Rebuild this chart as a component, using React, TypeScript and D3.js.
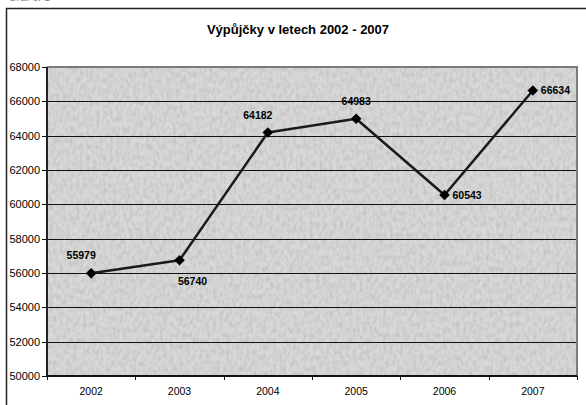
import React from "react";
import * as d3 from "d3";

const years = ["2002", "2003", "2004", "2005", "2006", "2007"];
const loans = [55979, 56740, 64182, 64983, 60543, 66634];
const labelPlacement = ["above", "below", "above", "above", "right", "right"];
const yTicks = [50000, 52000, 54000, 56000, 58000, 60000, 62000, 64000, 66000, 68000];
const title = "Výpůjčky v letech 2002 - 2007";

const W = 586;
const H = 405;
const plot = { left: 47, right: 577, top: 67, bottom: 376 };

export default function App() {
  const x = d3.scaleBand<string>().domain(years).range([plot.left, plot.right]);
  const y = d3.scaleLinear().domain([50000, 68000]).range([plot.bottom, plot.top]);
  const cx = (d: string) => (x(d) as number) + x.bandwidth() / 2;
  const line = d3
    .line<number>()
    .x((_, i) => cx(years[i]))
    .y((d) => y(d));
  const font = "Arial, 'Liberation Sans', sans-serif";
  const diamond = d3.symbol().type(d3.symbolDiamond2).size(72)();

  return (
    <svg
      width={W}
      height={H}
      style={{ position: "absolute", left: 0, top: 0, display: "block" }}
      fontFamily={font}
    >
      <defs>
        <filter id="tex" x="0" y="0" width="100%" height="100%">
          <feTurbulence type="fractalNoise" baseFrequency="0.3 0.18" numOctaves={3} seed={7} result="n" />
          <feColorMatrix
            in="n"
            type="matrix"
            values="0 0 0 0 0  0 0 0 0 0  0 0 0 0 0  0 0 0 -2.0 1.3"
            result="a"
          />
          <feFlood floodColor="#d8d8d8" result="bg" />
          <feFlood floodColor="#909090" result="dk" />
          <feComposite in="dk" in2="a" operator="in" result="dka" />
          <feComponentTransfer in="dka" result="dkb">
            <feFuncA type="linear" slope={0.35} />
          </feComponentTransfer>
          <feMerge>
            <feMergeNode in="bg" />
            <feMergeNode in="dkb" />
          </feMerge>
        </filter>
      </defs>
      <rect x={0} y={0} width={W} height={H} fill="#ffffff" />
      <text x={8} y={1} fontSize={11} fill="#888">Graf č. 1</text>
      {/* outer frame */}
      <path d={`M6.5,${H} V8.5 H${W}`} fill="none" stroke="#222" strokeWidth={1.5} />
      <text x={298} y={34} textAnchor="middle" fontSize={13} fontWeight="bold" fill="#000">
        {title}
      </text>
      {/* plot background */}
      <rect
        x={plot.left}
        y={plot.top}
        width={plot.right - plot.left}
        height={plot.bottom - plot.top}
        fill="#c8c8c8"
        filter="url(#tex)"
      />
      {/* gridlines */}
      {yTicks.slice(1, -1).map((t) => (
        <line
          key={t}
          x1={plot.left}
          x2={plot.right}
          y1={Math.round(y(t)) + 0.5}
          y2={Math.round(y(t)) + 0.5}
          stroke="#111"
          strokeWidth={1}
        />
      ))}
      {/* plot border top/right */}
      <path
        d={`M${plot.left},${plot.top} H${plot.right} V${plot.bottom}`}
        fill="none"
        stroke="#7a7a7a"
        strokeWidth={2}
      />
      {/* y axis */}
      <line x1={plot.left} x2={plot.left} y1={plot.top} y2={plot.bottom} stroke="#222" strokeWidth={2} />
      {yTicks.map((t) => (
        <g key={t}>
          <line
            x1={plot.left - 5}
            x2={plot.left}
            y1={Math.round(y(t)) + 0.5}
            y2={Math.round(y(t)) + 0.5}
            stroke="#111"
          />
          <text x={40} y={y(t) + 4} textAnchor="end" fontSize={11} fill="#000">
            {t}
          </text>
        </g>
      ))}
      {/* x axis */}
      <line x1={plot.left} x2={plot.right} y1={plot.bottom} y2={plot.bottom} stroke="#111" strokeWidth={2} />
      {years.map((yr, i) => (
        <g key={yr}>
          <line
            x1={Math.round((x(yr) as number) + x.bandwidth()) + 0.5}
            x2={Math.round((x(yr) as number) + x.bandwidth()) + 0.5}
            y1={plot.bottom}
            y2={plot.bottom + 4}
            stroke="#111"
          />
          {i === 0 && (
            <line
              x1={plot.left + 0.5}
              x2={plot.left + 0.5}
              y1={plot.bottom}
              y2={plot.bottom + 4}
              stroke="#111"
            />
          )}
          <text x={cx(yr)} y={395} textAnchor="middle" fontSize={10.5} fill="#000">
            {yr}
          </text>
        </g>
      ))}
      {/* series */}
      <path d={line(loans) || ""} fill="none" stroke="#1a1a1a" strokeWidth={2.5} strokeLinejoin="round" />
      {loans.map((v, i) => (
        <path
          key={i}
          d={diamond || ""}
          transform={`translate(${cx(years[i])},${y(v)})`}
          fill="#000"
        />
      ))}
      {loans.map((v, i) => {
        const px = cx(years[i]);
        const py = y(v);
        const p = labelPlacement[i];
        let tx = px;
        let ty = py;
        let anchor: "start" | "middle" | "end" = "middle";
        if (p === "above") {
          tx = px - 10;
          ty = py - 14;
        } else if (p === "below") {
          tx = px + 13;
          ty = py + 25;
        } else {
          tx = px + 8;
          ty = py + 4;
          anchor = "start";
        }
        if (i === 3) tx = px;
        return (
          <text key={i} x={tx} y={ty} textAnchor={anchor} fontSize={10.5} fontWeight="bold" fill="#000">
            {v}
          </text>
        );
      })}
    </svg>
  );
}
